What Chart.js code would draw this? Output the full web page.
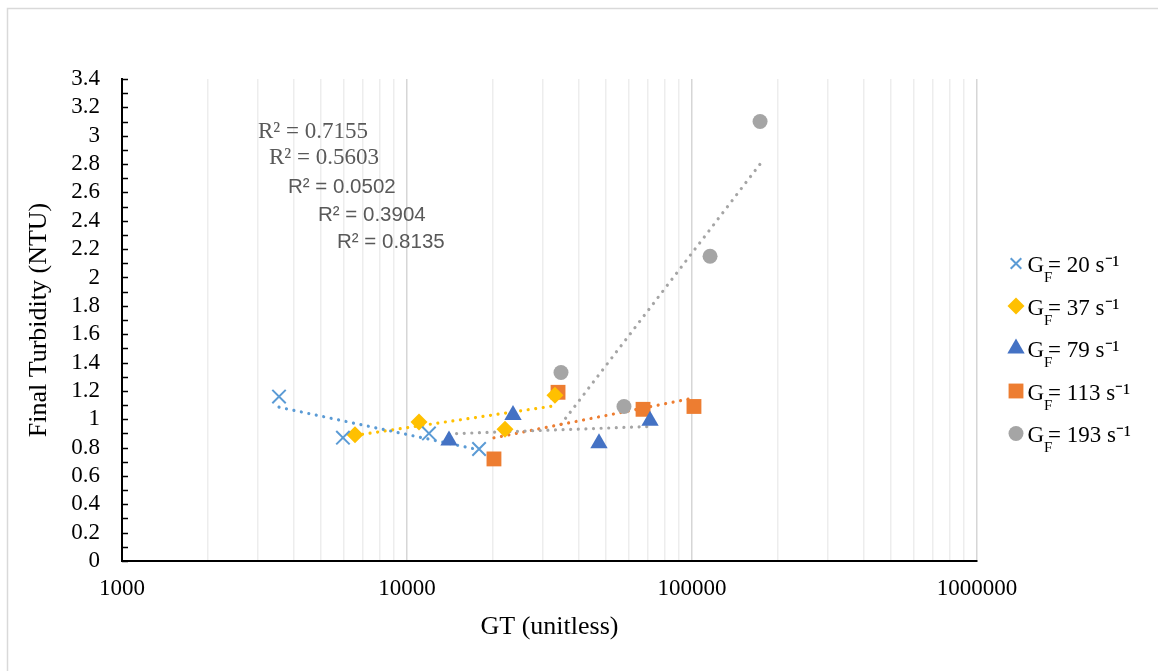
<!DOCTYPE html>
<html><head><meta charset="utf-8">
<script src="https://cdn.jsdelivr.net/npm/chart.js@4.4.0/dist/chart.umd.min.js"></script>
<style>html,body{margin:0;padding:0;background:#fff;} #wrap{width:1158px;height:671px;position:relative;}</style>
</head><body><div id="wrap"><canvas id="c" width="1158" height="671"></canvas></div>
<script>
// ---- data ----
const gf20X = [3556, 5960, 11940, 17900];
const gf20Y = [1.16, 0.87, 0.90, 0.79];
const gf37X = [6570, 11020, 22070, 33040];
const gf37Y = [0.89, 0.98, 0.93, 1.17];
const gf79X = [14040, 23550, 47170, 71250];
const gf79Y = [0.85, 1.03, 0.83, 0.99];
const gf113X = [20190, 33880, 67330, 101600];
const gf113Y = [0.72, 1.19, 1.07, 1.09];
const gf193X = [34700, 57720, 115700, 173300];
const gf193Y = [1.33, 1.09, 2.15, 3.10];
// trendline end points
const trend20X = [3556, 17900];   const trend20Y = [1.085, 0.784];
const trend37X = [6570, 33040];   const trend37Y = [0.886, 1.095];
const trend79X = [14040, 71250];  const trend79Y = [0.897, 0.949];
const trend113X = [20190, 101600]; const trend113Y = [0.869, 1.15];
const trend193X = [34700, 173300]; const trend193Y = [0.964, 2.80];
const seriesLabels = ['20', '37', '79', '113', '193'];
const r2Labels = ['R² = 0.7155', 'R² = 0.5603', 'R² = 0.0502', 'R² = 0.3904', 'R² = 0.8135'];
const xDecades = [1000, 10000, 100000, 1000000];
const xGridVals = [1000,2000,3000,4000,5000,6000,7000,8000,9000,
  10000,20000,30000,40000,50000,60000,70000,80000,90000,
  100000,200000,300000,400000,500000,600000,700000,800000,900000,1000000];
const yMin = 0, yMax = 3.4, yStep = 0.2;
const yMinorTicks = [0,0.1,0.2,0.3,0.4,0.5,0.6,0.7,0.8,0.9,1,1.1,1.2,1.3,1.4,1.5,1.6,1.7,1.8,1.9,2,2.1,2.2,2.3,2.4,2.5,2.6,2.7,2.8,2.9,3,3.1,3.2,3.3,3.4];

const pts = (xs, ys) => xs.map((x, i) => ({x, y: ys[i]}));
const SERIF = '"Liberation Serif", "Times New Roman", serif';

const markerStyles = [
  {color: '#5B9BD5', pointStyle: 'crossRot', radius: 9.5, bw: 2, fill: false},
  {color: '#FFC000', pointStyle: 'rectRot', radius: 8.5, bw: 0, fill: true},
  {color: '#4472C4', pointStyle: 'triangle', radius: 10, bw: 0, fill: true},
  {color: '#ED7D31', pointStyle: 'rect', radius: 10.5, bw: 0, fill: true},
  {color: '#A5A5A5', pointStyle: 'circle', radius: 7.5, bw: 0, fill: true}
];
const seriesData = [pts(gf20X, gf20Y), pts(gf37X, gf37Y), pts(gf79X, gf79Y), pts(gf113X, gf113Y), pts(gf193X, gf193Y)];
const trendData = [pts(trend20X, trend20Y), pts(trend37X, trend37Y), pts(trend79X, trend79Y), pts(trend113X, trend113Y), pts(trend193X, trend193Y)];
const trendColors = ['#5B9BD5', '#FFC000', '#A5A5A5', '#ED7D31', '#A5A5A5'];

const datasets = [];
trendData.forEach((d, i) => datasets.push({
  label: 'trend ' + seriesLabels[i], data: d, showLine: true, pointRadius: 0,
  borderColor: trendColors[i], borderWidth: 3.2, borderDash: [0.01, 7.6], borderCapStyle: 'round',
  fill: false, order: 2
}));
seriesData.forEach((d, i) => {
  const m = markerStyles[i];
  datasets.push({
    label: 'GF= ' + seriesLabels[i] + ' s⁻¹', data: d, showLine: false,
    pointStyle: m.pointStyle, pointRadius: m.radius, pointHoverRadius: m.radius,
    backgroundColor: m.color, borderColor: m.color, pointBorderWidth: m.bw, borderWidth: m.bw,
    order: 1
  });
});

const extrasPlugin = {
  id: 'extras',
  beforeDraw(chart) {
    const ctx = chart.ctx;
    ctx.save();
    ctx.fillStyle = '#fff';
    ctx.fillRect(0, 0, chart.width, chart.height);
    ctx.strokeStyle = '#d9d9d9';
    ctx.lineWidth = 1.5;
    ctx.strokeRect(7.5, 8.5, chart.width + 20, chart.height + 20);
    ctx.restore();
  },
  afterDraw(chart) {
    const ctx = chart.ctx;
    const ys = chart.scales.y;
    const area = chart.chartArea;
    ctx.save();
    // y axis inner tick marks
    ctx.strokeStyle = '#000';
    ctx.lineWidth = 1.5;
    yMinorTicks.forEach(v => {
      const py = Math.round(ys.getPixelForValue(v)) + 0.5;
      ctx.beginPath();
      ctx.moveTo(area.left, py);
      ctx.lineTo(area.left + 6, py);
      ctx.stroke();
    });
    // R² labels
    const r2Pos = [[258, 132, 'serif'], [269, 158, 'serif'], [288, 187, 'sans'], [318, 215, 'sans'], [337, 242, 'sans']];
    ctx.fillStyle = '#595959';
    ctx.textBaseline = 'middle';
    ctx.textAlign = 'left';
    r2Labels.forEach((t, i) => {
      const p = r2Pos[i];
      ctx.font = p[2] === 'serif' ? '23px ' + SERIF : '20.5px "Liberation Sans", Arial, sans-serif';
      ctx.fillText(t, p[0], p[1]);
    });
    // legend
    ctx.textBaseline = 'alphabetic';
    seriesLabels.forEach((lab, i) => {
      const base = 272 + i * 42.5;
      const m = markerStyles[i];
      ctx.fillStyle = m.color;
      ctx.strokeStyle = m.color;
      ctx.lineWidth = m.bw;
      const r = m.pointStyle === 'crossRot' ? 7.5 : m.radius;
      Chart.helpers.drawPoint(ctx, {pointStyle: m.pointStyle, radius: r, borderWidth: m.bw, rotation: 0}, 1016, base - 8.5);
      ctx.fillStyle = '#000';
      ctx.font = '23px ' + SERIF;
      const x0 = 1027.5;
      ctx.fillText('G', x0, base);
      const gw = ctx.measureText('G').width;
      ctx.font = '15px ' + SERIF;
      ctx.fillText('F', x0 + gw, base + 10);
      ctx.font = '23px ' + SERIF;
      ctx.fillText('= ' + lab + ' s\u207B\u00B9', x0 + gw + 4, base);
    });
    ctx.restore();
  }
};

new Chart(document.getElementById('c'), {
  type: 'scatter',
  data: {datasets},
  options: {
    responsive: false,
    animation: false,
    layout: {padding: {left: 0, top: 79, right: 181, bottom: 0}},
    plugins: {legend: {display: false}, tooltip: {enabled: false}},
    scales: {
      x: {
        type: 'logarithmic', min: 1000, max: 1000000,
        afterBuildTicks: (s) => { s.ticks = xGridVals.map(v => ({value: v, major: xDecades.includes(v)})); },
        afterFit: (s) => { s.height = 110; },
        ticks: {
          autoSkip: false, maxRotation: 0, minRotation: 0, padding: 14, color: '#000',
          font: {family: SERIF, size: 23},
          callback: (v) => xDecades.includes(v) ? String(v) : ''
        },
        grid: {
          drawTicks: false, lineWidth: 1.5,
          color: (c) => (c.tick && xDecades.includes(c.tick.value)) ? '#d6d6d6' : '#ededed'
        },
        border: {display: true, color: '#000', width: 2},
        title: {display: true, text: 'GT (unitless)', color: '#000', font: {family: SERIF, size: 26}, padding: {top: 0, bottom: 28}}
      },
      y: {
        type: 'linear', min: yMin, max: yMax,
        afterFit: (s) => { s.width = 122; },
        ticks: {
          stepSize: yStep, autoSkip: false, padding: 22, color: '#000', font: {family: SERIF, size: 23},
          callback: (v) => String(+v.toFixed(1))
        },
        grid: {drawOnChartArea: false, drawTicks: false},
        border: {display: true, color: '#000', width: 2},
        title: {display: true, text: 'Final Turbidity (NTU)', color: '#000', font: {family: SERIF, size: 26}, padding: {top: 24, bottom: 0}}
      }
    }
  },
  plugins: [extrasPlugin]
});
</script>
</body></html>
